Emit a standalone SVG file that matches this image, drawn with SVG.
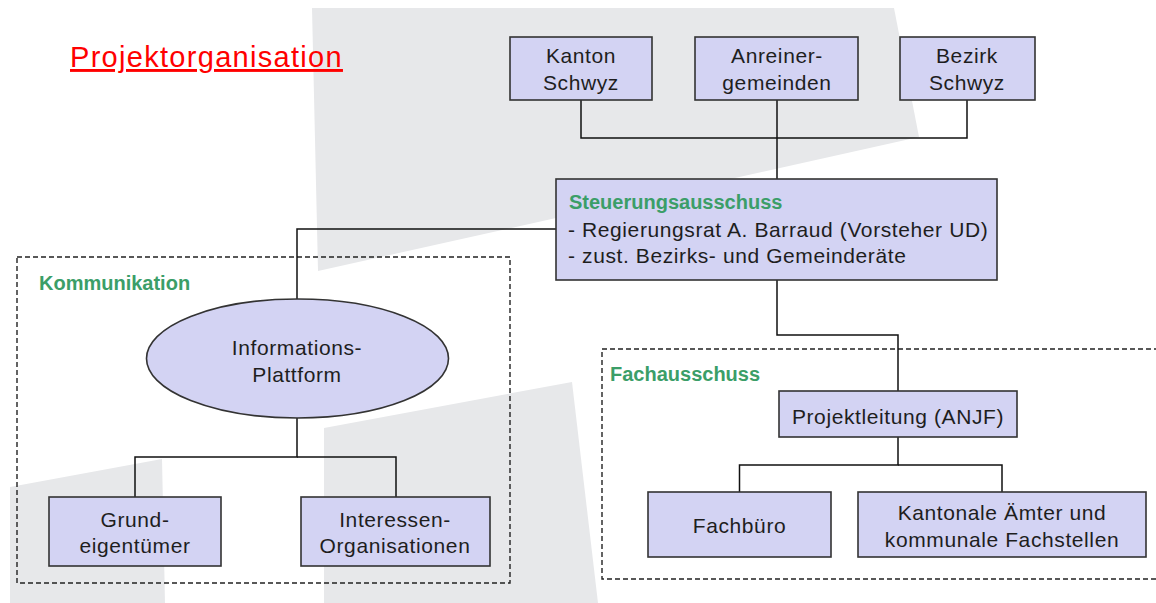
<svg xmlns="http://www.w3.org/2000/svg" width="1156" height="603" viewBox="0 0 1156 603">
<style>
.bg{fill:#e7e8ea;stroke:none}
.box{fill:#d3d3f3;stroke:#333;stroke-width:1.6}
.grp{fill:none;stroke:#222;stroke-width:1.4;stroke-dasharray:5 3}
.con{fill:none;stroke:#111;stroke-width:1.5}
.t{font-family:"Liberation Sans",Arial,sans-serif;font-size:21px;letter-spacing:0.6px;fill:#1e1e1e}
.c{text-anchor:middle}
.h{font-family:"Liberation Sans",Arial,sans-serif;font-size:20px;font-weight:bold;fill:#3b9e68}
.title{font-family:"Liberation Sans",Arial,sans-serif;font-size:29px;letter-spacing:1.3px;fill:#ff0000;text-decoration:underline}
</style>
<g id="background">
<polygon class="bg" points="312,8 894,8 919,137 318,271"/>
<polygon class="bg" points="10,487 162,459 165,603 10,603"/>
<polygon class="bg" points="324,428 572,382 598,603 324,603"/>
</g>
<g id="title"><text class="title" x="70" y="67">Projektorganisation</text></g>
<g id="group-kommunikation">
<rect class="grp" x="17" y="257" width="493" height="326"/>
<text class="h" x="39" y="290">Kommunikation</text>
</g>
<g id="group-fachausschuss">
<rect class="grp" x="602" y="349" width="570" height="230"/>
<text class="h" x="610" y="381">Fachausschuss</text>
</g>
<g id="connectors">
<polyline class="con" points="581,100 581,138 967,138 967,100"/>
<line class="con" x1="777" y1="100" x2="777" y2="179"/>
<polyline class="con" points="556,229 297,229 297,299"/>
<polyline class="con" points="297,418 297,457 135,457 135,497"/>
<polyline class="con" points="297,457 396,457 396,497"/>
<polyline class="con" points="777,280 777,335 898,335 898,391"/>
<polyline class="con" points="898,437 898,465 739.5,465 739.5,492"/>
<polyline class="con" points="898,465 1002,465 1002,492"/>
</g>
<g id="kanton">
<rect class="box" x="510" y="37" width="142" height="63"/>
<text class="t c" x="581" y="63">Kanton</text>
<text class="t c" x="581" y="90">Schwyz</text>
</g>
<g id="anreiner">
<rect class="box" x="695" y="37" width="163" height="63"/>
<text class="t c" x="777" y="63">Anreiner-</text>
<text class="t c" x="777" y="90">gemeinden</text>
</g>
<g id="bezirk">
<rect class="box" x="900" y="37" width="135" height="63"/>
<text class="t c" x="967" y="63">Bezirk</text>
<text class="t c" x="967" y="90">Schwyz</text>
</g>
<g id="steuerungsausschuss">
<rect class="box" x="556" y="179" width="441" height="101"/>
<text class="h" x="569" y="209">Steuerungsausschuss</text>
<text class="t" x="568" y="237">- Regierungsrat A. Barraud (Vorsteher UD)</text>
<text class="t" x="568" y="263">- zust. Bezirks- und Gemeinderäte</text>
</g>
<g id="plattform">
<ellipse class="box" cx="297.5" cy="358.5" rx="151" ry="59.5"/>
<text class="t c" x="297" y="355">Informations-</text>
<text class="t c" x="297" y="382">Plattform</text>
</g>
<g id="grundeigentuemer">
<rect class="box" x="49" y="497" width="172" height="69"/>
<text class="t c" x="135" y="527">Grund-</text>
<text class="t c" x="135" y="553">eigentümer</text>
</g>
<g id="interessen">
<rect class="box" x="301" y="497" width="189" height="69"/>
<text class="t c" x="395" y="527">Interessen-</text>
<text class="t c" x="395" y="553">Organisationen</text>
</g>
<g id="projektleitung">
<rect class="box" x="779" y="391" width="238" height="46"/>
<text class="t c" x="898" y="424">Projektleitung (ANJF)</text>
</g>
<g id="fachbuero">
<rect class="box" x="648" y="492" width="183" height="65"/>
<text class="t c" x="739.5" y="533">Fachbüro</text>
</g>
<g id="kantonale">
<rect class="box" x="858" y="492" width="288" height="65"/>
<text class="t c" x="1002" y="520">Kantonale Ämter und</text>
<text class="t c" x="1002" y="547">kommunale Fachstellen</text>
</g>
</svg>
